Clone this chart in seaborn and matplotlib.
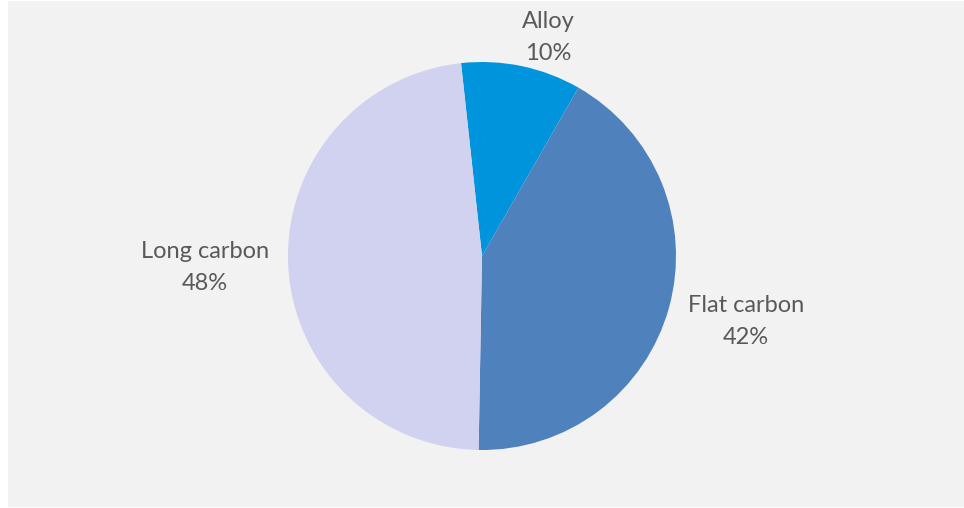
import matplotlib
matplotlib.use("Agg")
import matplotlib.pyplot as plt
import seaborn as sns
from matplotlib.patches import Rectangle

# Steel product mix
categories = ["Alloy", "Flat carbon", "Long carbon"]
shares = [10, 42, 48]
colors = ["#0094dd", "#4f81bd", "#d1d1f0"]

sns.set_theme(style="white")
plt.rcParams["font.family"] = ["Lato", "DejaVu Sans"]

W, H = 964, 508
fig = plt.figure(figsize=(W / 100, H / 100), dpi=100)
fig.patch.set_facecolor("white")
ax = fig.add_axes([0, 0, 1, 1])
ax.set_xlim(0, W)
ax.set_ylim(0, H)
ax.axis("off")

# chart area background
ax.add_patch(Rectangle((8, 1), W - 8, H - 2, facecolor="#f2f2f2",
                       edgecolor="none", zorder=0))

cx, cy, r = 482, H - 256, 194
wedges, _ = ax.pie(shares, colors=colors, startangle=96.2, counterclock=False,
                   center=(cx, cy), radius=r,
                   wedgeprops=dict(linewidth=0))
for w in wedges:
    w.set_zorder(2)
ax.set_xlim(0, W)
ax.set_ylim(0, H)

# label anchor points (name / percentage stacked)
label_pos = [(548, H - 37), (746, H - 321), (205, H - 268)]
for name, val, (lx, ly) in zip(categories, shares, label_pos):
    ax.text(lx, ly + 16, name, ha="center", va="center",
            fontsize=17, color="#595959", zorder=3)
    ax.text(lx, ly - 16, f"{val}%", ha="center", va="center",
            fontsize=17, color="#595959", zorder=3)

fig.savefig("out.png", dpi=100, facecolor=fig.get_facecolor())
